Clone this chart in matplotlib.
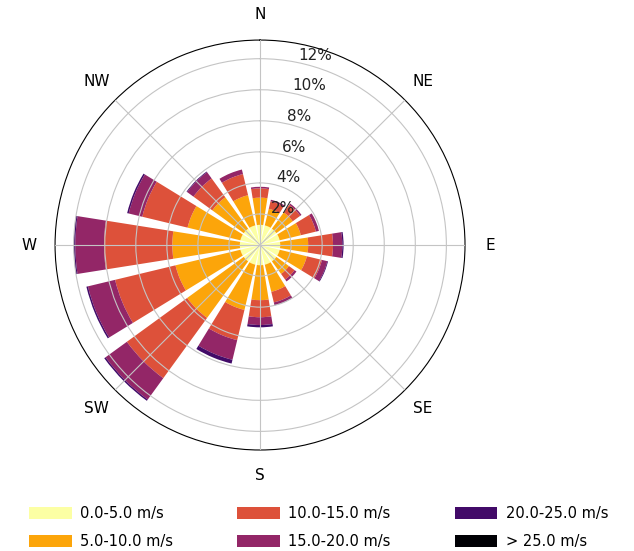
"""Wind rose of direction frequency by speed bin."""

import numpy as np
import matplotlib.pyplot as plt

# Compass sectors, clockwise from north
directions = ["N", "NNE", "NE", "ENE", "E", "ESE", "SE", "SSE",
              "S", "SSW", "SW", "WSW", "W", "WNW", "NW", "NNW"]
speed_bins = ["0.0-5.0 m/s", "5.0-10.0 m/s", "10.0-15.0 m/s",
              "15.0-20.0 m/s", "20.0-25.0 m/s", "> 25.0 m/s"]

# Frequency (%) of each speed bin per sector
freq_0_5 = [1.3, 1.3, 1.3, 1.3, 1.3, 1.3, 1.3, 1.3,
            1.3, 1.3, 1.3, 1.3, 1.3, 1.3, 1.3, 1.3]
freq_5_10 = [1.75, 1.1, 1.3, 1.4, 1.8, 1.8, 1.0, 1.8,
             2.25, 3.0, 4.5, 4.3, 4.35, 3.5, 2.5, 2.0]
freq_10_15 = [0.6, 0.5, 0.6, 1.0, 1.6, 1.0, 0.45, 0.7,
              1.1, 2.0, 4.8, 4.0, 4.4, 3.0, 1.5, 1.4]
freq_15_20 = [0.1, 0.1, 0.1, 0.2, 0.6, 0.35, 0.15, 0.17,
              0.5, 1.3, 1.7, 1.8, 1.85, 0.9, 0.5, 0.3]
freq_20_25 = [0.0, 0.0, 0.0, 0.0, 0.08, 0.05, 0.0, 0.03,
              0.15, 0.25, 0.1, 0.1, 0.1, 0.1, 0.05, 0.0]
freq_25_up = [0.0] * 16

radial_ticks = [2, 4, 6, 8, 10, 12]
compass_labels = ["N", "NE", "E", "SE", "S", "SW", "W", "NW"]

if __name__ == "__main__":
    series = [freq_0_5, freq_5_10, freq_10_15, freq_15_20, freq_20_25, freq_25_up]
    colors = plt.cm.inferno(np.linspace(1, 0, len(series)))

    fig = plt.figure(figsize=(6.34, 5.51), dpi=100)
    ax = fig.add_axes([0.0868, 0.1833, 0.6467, 0.744], projection="polar")
    ax.set_theta_zero_location("N")
    ax.set_theta_direction(-1)

    sector = 2 * np.pi / len(directions)
    theta = np.arange(len(directions)) * sector
    width = sector * 0.8

    bottom = np.zeros(len(directions))
    for vals, color, label in zip(series, colors, speed_bins):
        vals = np.array(vals)
        ax.bar(theta, vals, width=width, bottom=bottom, color=color,
               label=label, linewidth=0)
        bottom += vals

    ax.set_ylim(0, 13.2)
    ax.set_axisbelow(False)
    ax.grid(color="#c4c4c4", linewidth=0.8)

    ax.set_xticks(np.deg2rad(np.arange(0, 360, 45)))
    ax.set_xticklabels(compass_labels, fontsize=11)
    ax.tick_params(axis="x", pad=8)

    # radial labels drawn by hand so they sit just right of the ring
    ax.set_yticks(radial_ticks)
    ax.set_yticklabels([])
    for r in radial_ticks:
        ax.annotate(f"{r}%", xy=(np.deg2rad(10), r), xytext=(4, -1),
                    textcoords="offset points", ha="left", va="bottom",
                    fontsize=11, color="#222222")

    handles, labels = ax.get_legend_handles_labels()
    fig.legend(handles, labels, loc="center", bbox_to_anchor=(0.503, 0.043),
               ncol=3, frameon=False, fontsize=10.5, handlelength=2.9,
               handleheight=0.9, handletextpad=0.6, columnspacing=4.4,
               labelspacing=0.9)

    fig.savefig("out.png", dpi=100)
